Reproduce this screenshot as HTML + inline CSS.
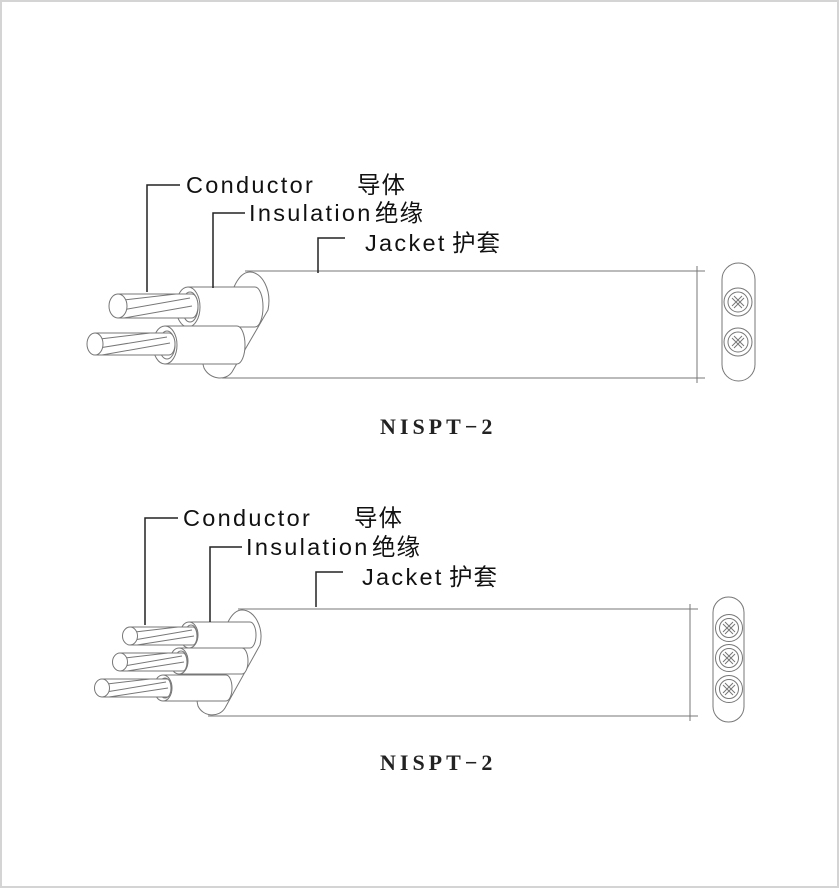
<!DOCTYPE html>
<html><head><meta charset="utf-8"><style>
html,body{margin:0;padding:0;background:#fff}
svg{display:block}
.t{font-family:"Liberation Sans","Noto Sans CJK SC",sans-serif;font-size:23.5px;fill:#111;letter-spacing:2.3px}
.c{font-family:"Liberation Sans","Noto Sans CJK SC",sans-serif;font-size:23.5px;fill:#111;letter-spacing:1px}
.h{font-family:"Liberation Serif",serif;font-weight:bold;font-size:22px;fill:#222;letter-spacing:4px}
.s{fill:#fff;stroke:#777;stroke-width:1}
.l{fill:none;stroke:#777;stroke-width:1}
.k{fill:none;stroke:#222;stroke-width:1.5}
</style></head><body>
<svg width="840" height="889" viewBox="0 0 840 889" xmlns="http://www.w3.org/2000/svg">
<rect x="1" y="1" width="837" height="886" fill="#fff" stroke="#d4d4d4" stroke-width="2"/>
<defs>
<g id="hatch">
<path class="l" d="M-6,-4 L4,6 M-4,-6 L6,4 M-6,4 L4,-6 M-4,6 L6,-4" stroke-width="0.7"/>
</g>
</defs>

<!-- TOP DIAGRAM -->
<line class="l" x1="245" y1="271" x2="705" y2="271"/>
<line class="l" x1="222" y1="378" x2="705" y2="378"/>
<line class="l" x1="697" y1="266" x2="697" y2="383"/>
<path class="s" d="M250,272 C262,272 272,290 268,310 L232,372 C226,381 210,380 204,368 C201,360 203,352 207,345 L234,287 C238,278 243,272 250,272 Z"/>

<!-- upper wire -->
<path class="s" d="M188,287 L255,287 A8,20 0 0 1 255,327 L188,327 Z"/>
<ellipse class="s" cx="188" cy="307" rx="12" ry="20"/>
<ellipse class="l" cx="190" cy="307" rx="8" ry="15"/>
<path class="s" d="M118,294 L192,294 A6,12 0 0 1 192,318 L118,318 Z"/>
<path class="l" d="M124,300 L176,294 M122,310 L190,298 M124,318 L192,306" stroke-width="0.8"/>
<ellipse class="s" cx="118" cy="306" rx="9" ry="12"/>
<!-- lower wire -->
<path class="s" d="M165,326 L237,326 A8,19 0 0 1 237,364 L165,364 Z"/>
<ellipse class="s" cx="165" cy="345" rx="12" ry="19"/>
<ellipse class="l" cx="167" cy="345" rx="8" ry="14"/>
<path class="s" d="M95,333 L169,333 A6,11 0 0 1 169,355 L95,355 Z"/>
<path class="l" d="M100,339 L150,333 M99,348 L167,337 M102,355 L170,343" stroke-width="0.8"/>
<ellipse class="s" cx="95" cy="344" rx="8" ry="11"/>

<!-- leaders top -->
<path class="k" d="M180,185 L147,185 L147,292"/>
<path class="k" d="M245,213 L213,213 L213,288"/>
<path class="k" d="M345,238 L318,238 L318,273"/>
<text class="t" x="186" y="193">Conductor</text>
<text class="c" x="357" y="193">导体</text>
<text class="t" x="249" y="221">Insulation</text>
<text class="c" x="375" y="221">绝缘</text>
<text class="t" x="365" y="251">Jacket</text>
<text class="c" x="452" y="251">护套</text>

<!-- top cross section -->
<rect class="s" x="722" y="263" width="33" height="118" rx="16.5"/>
<circle class="l" cx="738" cy="302" r="14"/><circle class="l" cx="738" cy="302" r="10"/>
<use href="#hatch" x="738" y="302"/>
<circle class="l" cx="738" cy="342" r="14"/><circle class="l" cx="738" cy="342" r="10"/>
<use href="#hatch" x="738" y="342"/>

<text class="h" x="380" y="434">NISPT−2</text>

<!-- BOTTOM DIAGRAM -->
<line class="l" x1="238" y1="609" x2="698" y2="609"/>
<line class="l" x1="208" y1="716" x2="698" y2="716"/>
<line class="l" x1="690" y1="604" x2="690" y2="721"/>
<path class="s" d="M242,610 C255,610 264,628 260,645 L225,708 C219,718 203,717 198,706 C196,699 197,693 200,687 L228,622 C232,614 237,610 242,610 Z"/>

<!-- w1 -->
<path class="s" d="M189,622 L250,622 A6,13 0 0 1 250,648 L189,648 Z"/>
<ellipse class="s" cx="189" cy="635" rx="9" ry="13"/>
<ellipse class="l" cx="191" cy="635" rx="6" ry="10"/>
<path class="s" d="M130,627 L193,627 A4,9 0 0 1 193,645 L130,645 Z"/>
<path class="l" d="M135,632 L178,627 M134,640 L192,630 M137,645 L194,636" stroke-width="0.8"/>
<ellipse class="s" cx="130" cy="636" rx="7.5" ry="9"/>
<!-- w2 -->
<path class="s" d="M179,648 L242,648 A6,13 0 0 1 242,674 L179,674 Z"/>
<ellipse class="s" cx="179" cy="661" rx="9" ry="13"/>
<ellipse class="l" cx="181" cy="661" rx="6" ry="10"/>
<path class="s" d="M120,653 L183,653 A4,9 0 0 1 183,671 L120,671 Z"/>
<path class="l" d="M125,658 L168,653 M124,666 L182,656 M127,671 L184,662" stroke-width="0.8"/>
<ellipse class="s" cx="120" cy="662" rx="7.5" ry="9"/>
<!-- w3 -->
<path class="s" d="M163,675 L226,675 A6,13 0 0 1 226,701 L163,701 Z"/>
<ellipse class="s" cx="163" cy="688" rx="9" ry="13"/>
<ellipse class="l" cx="165" cy="688" rx="6" ry="10"/>
<path class="s" d="M102,679 L167,679 A4,9 0 0 1 167,697 L102,697 Z"/>
<path class="l" d="M107,684 L150,679 M106,692 L166,682 M109,697 L168,688" stroke-width="0.8"/>
<ellipse class="s" cx="102" cy="688" rx="7.5" ry="9"/>

<!-- leaders bottom -->
<path class="k" d="M178,518 L145,518 L145,625"/>
<path class="k" d="M242,547 L210,547 L210,622"/>
<path class="k" d="M343,572 L316,572 L316,607"/>
<text class="t" x="183" y="526">Conductor</text>
<text class="c" x="354" y="526">导体</text>
<text class="t" x="246" y="555">Insulation</text>
<text class="c" x="372" y="555">绝缘</text>
<text class="t" x="362" y="585">Jacket</text>
<text class="c" x="449" y="585">护套</text>

<!-- bottom cross section -->
<rect class="s" x="713" y="597" width="31" height="125" rx="15.5"/>
<circle class="l" cx="729" cy="628" r="13.5"/><circle class="l" cx="729" cy="628" r="9.5"/>
<use href="#hatch" x="729" y="628"/>
<circle class="l" cx="729" cy="658" r="13.5"/><circle class="l" cx="729" cy="658" r="9.5"/>
<use href="#hatch" x="729" y="658"/>
<circle class="l" cx="729" cy="689" r="13.5"/><circle class="l" cx="729" cy="689" r="9.5"/>
<use href="#hatch" x="729" y="689"/>

<text class="h" x="380" y="770">NISPT−2</text>
</svg>
</body></html>
